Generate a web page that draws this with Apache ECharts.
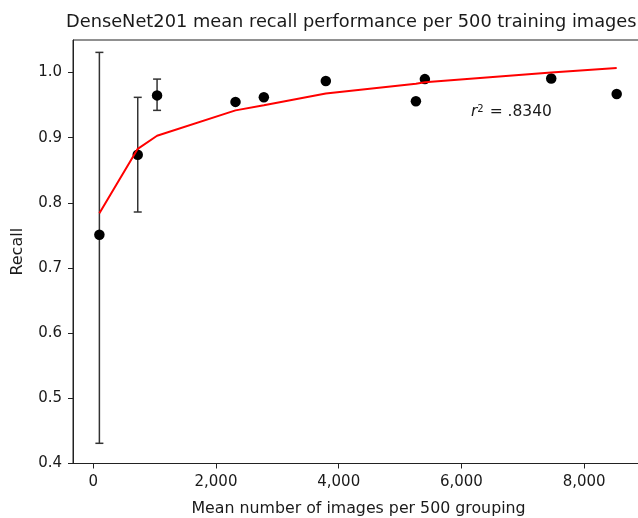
<!DOCTYPE html>
<html>
<head>
<meta charset="utf-8">
<script src="https://cdn.jsdelivr.net/npm/echarts@6/dist/echarts.min.js"></script>
<style>
  html, body { margin: 0; padding: 0; background: #fff; }
  #chart { width: 638px; height: 518px; }
</style>
</head>
<body>
<div id="chart"></div>
<script>
// ---- data ----
const imagesPerGroup = [100, 725, 1040, 2318, 2780, 3790, 5258, 5404, 7463, 8530];
const meanRecall     = [0.751, 0.874, 0.965, 0.955, 0.962, 0.987, 0.956, 0.990, 0.991, 0.967];
const fitRecall      = [0.784, 0.883, 0.903, 0.942, 0.950, 0.968, 0.983, 0.985, 1.000, 1.007];
const errLower       = [0.431, 0.786, 0.942, null, null, null, null, null, null, null];
const errUpper       = [1.031, 0.962, 0.990, null, null, null, null, null, null, null];
const xTicks = [0, 2000, 4000, 6000, 8000];
const yTicks = [0.4, 0.5, 0.6, 0.7, 0.8, 0.9, 1.0];
const titleText = 'DenseNet201 mean recall performance per 500 training images';
const xName = 'Mean number of images per 500 grouping';
const yName = 'Recall';
const r2Text = '.8340';

const FONT = '"DejaVu Sans", sans-serif';
const INK = '#1a1a1a';

const pts = imagesPerGroup.map((x, i) => [x, meanRecall[i]]);
const fit = imagesPerGroup.map((x, i) => [x, fitRecall[i]]);
const errs = [];
imagesPerGroup.forEach((x, i) => {
  if (errLower[i] != null && errUpper[i] != null) errs.push([x, errLower[i], errUpper[i]]);
});

const chart = echarts.init(document.getElementById('chart'), null, { renderer: 'canvas' });
chart.setOption({
  animation: false,
  backgroundColor: '#fff',
  textStyle: { fontFamily: FONT },
  title: {
    text: titleText,
    left: 61, top: 8,
    textStyle: { fontFamily: FONT, fontSize: 17.8, fontWeight: 'normal', color: INK }
  },
  grid: {
    left: 73, top: 40, width: 571, height: 423.5,
    containLabel: false,
    outerBoundsMode: 'none',
    show: true, borderColor: '#222', borderWidth: 1, backgroundColor: 'transparent'
  },
  xAxis: {
    type: 'value', min: -330, max: 8975,
    name: xName, nameLocation: 'middle', nameGap: 37,
    nameTextStyle: { fontFamily: FONT, fontSize: 15.8, color: INK },
    axisLine: { show: true, onZero: false, lineStyle: { color: '#222', width: 1 } },
    axisTick: { show: true, length: 5, customValues: xTicks, lineStyle: { color: '#222' } },
    axisLabel: {
      customValues: xTicks, margin: 11, fontFamily: FONT, fontSize: 15, color: INK,
      formatter: v => Number(v).toLocaleString('en-US')
    },
    splitLine: { show: false }
  },
  yAxis: {
    type: 'value', min: 0.4, max: 1.05,
    name: yName, nameLocation: 'middle', nameGap: 47,
    nameTextStyle: { fontFamily: FONT, fontSize: 16, color: INK },
    axisLine: { show: true, onZero: false, lineStyle: { color: '#222', width: 1 } },
    axisTick: { show: true, length: 5, customValues: yTicks, lineStyle: { color: '#222' } },
    axisLabel: {
      customValues: yTicks, margin: 11, fontFamily: FONT, fontSize: 15, color: INK,
      formatter: v => Number(v).toFixed(1)
    },
    splitLine: { show: false }
  },
  series: [
    {
      type: 'custom',
      z: 2,
      data: errs,
      encode: { x: 0, y: [1, 2] },
      renderItem: function (params, api) {
        const x = api.value(0);
        const lo = api.coord([x, api.value(1)]);
        const hi = api.coord([x, api.value(2)]);
        const cap = 4;
        const st = { stroke: '#333', lineWidth: 1.5 };
        return {
          type: 'group',
          children: [
            { type: 'line', shape: { x1: lo[0], y1: lo[1], x2: hi[0], y2: hi[1] }, style: st },
            { type: 'line', shape: { x1: hi[0] - cap, y1: hi[1], x2: hi[0] + cap, y2: hi[1] }, style: st },
            { type: 'line', shape: { x1: lo[0] - cap, y1: lo[1], x2: lo[0] + cap, y2: lo[1] }, style: st }
          ]
        };
      }
    },
    {
      type: 'scatter',
      z: 3,
      data: pts,
      symbol: 'circle',
      symbolSize: 10.5,
      itemStyle: { color: '#000', opacity: 1 }
    },
    {
      type: 'line',
      z: 4,
      data: fit,
      showSymbol: false,
      symbol: 'none',
      lineStyle: { color: '#ff0000', width: 2 }
    }
  ],
  graphic: [
    {
      type: 'text',
      left: 471, top: 104,
      style: {
        text: '{i|r}{s|2}{n| = ' + r2Text + '}',
        rich: {
          i: { fontFamily: FONT, fontStyle: 'italic', fontSize: 15.5, fill: INK, color: INK, verticalAlign: 'bottom' },
          s: { fontFamily: FONT, fontSize: 10, fill: INK, color: INK, verticalAlign: 'top', padding: [0, 1, 6, 0] },
          n: { fontFamily: FONT, fontSize: 15.5, fill: INK, color: INK, verticalAlign: 'bottom' }
        }
      }
    }
  ]
});
</script>
</body>
</html>
